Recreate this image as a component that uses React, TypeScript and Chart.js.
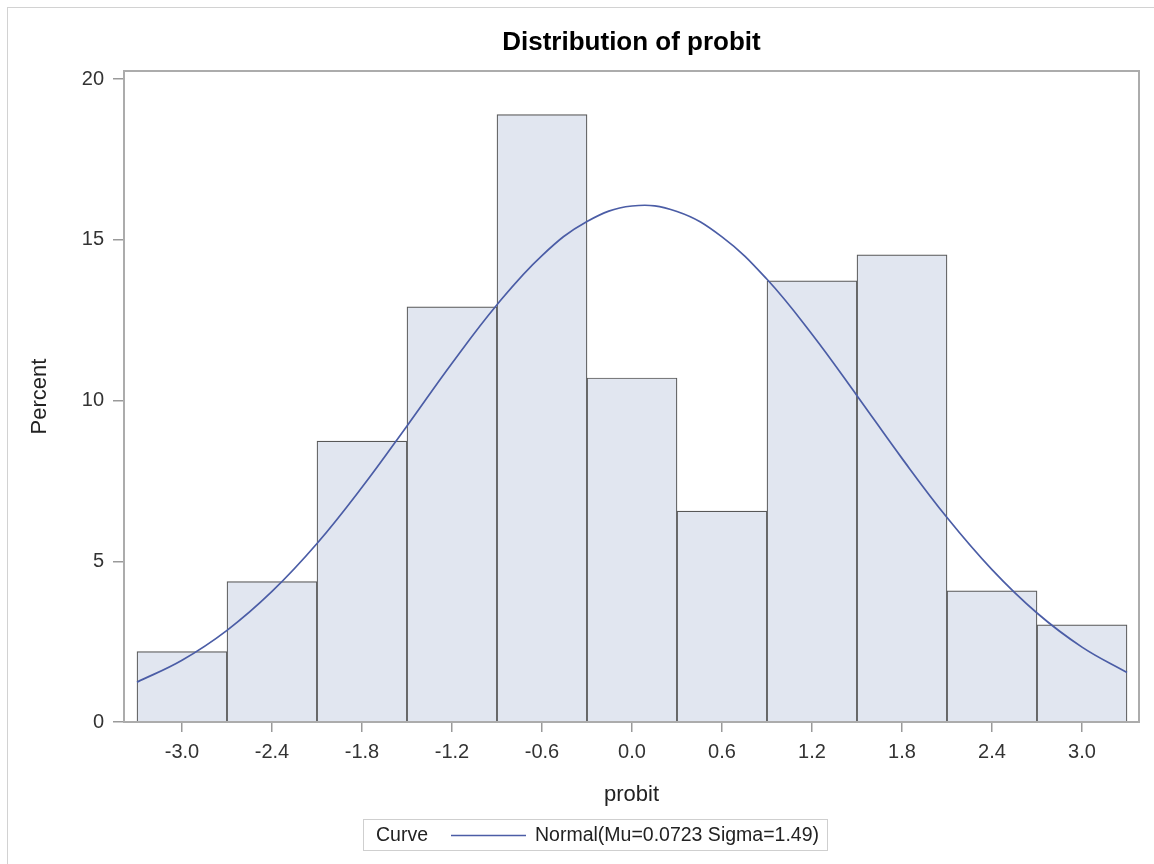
import React, { useEffect, useRef } from 'react';
import { Chart, registerables } from 'chart.js';

Chart.register(...registerables);

// ---- data ----
const binCenters = [-3.0, -2.4, -1.8, -1.2, -0.6, 0.0, 0.6, 1.2, 1.8, 2.4, 3.0];
const binPercents = [2.19, 4.37, 8.74, 12.91, 18.89, 10.7, 6.56, 13.72, 14.53, 4.08, 3.02];

const curveX = [-3.3, -3.0, -2.7, -2.4, -2.1, -1.8, -1.5, -1.2, -0.9, -0.6, -0.3, 0.0, 0.3, 0.6, 0.9, 1.2, 1.5, 1.8, 2.1, 2.4, 2.7, 3.0, 3.3];
const curveY = [1.24, 1.92, 2.85, 4.06, 5.55, 7.3, 9.21, 11.16, 12.98, 14.51, 15.57, 16.05, 15.88, 15.09, 13.77, 12.06, 10.15, 8.2, 6.36, 4.74, 3.39, 2.33, 1.54];

const xTickValues = [-3.0, -2.4, -1.8, -1.2, -0.6, 0.0, 0.6, 1.2, 1.8, 2.4, 3.0];
const yTickValues = [0, 5, 10, 15, 20];

const chartTitle = 'Distribution of probit';
const xAxisTitle = 'probit';
const yAxisTitle = 'Percent';
const legendTitle = 'Curve';
const legendLabel = 'Normal(Mu=0.0723 Sigma=1.49)';

const FONT = "'Liberation Sans', Arial, sans-serif";
const CURVE_COLOR = '#4b5da6';
const FRAME_COLOR = '#acacac';

const decorPlugin = {
  id: 'decor',
  afterDatasetsDraw(chart: any) {
    const { ctx, chartArea: a } = chart;
    ctx.save();
    ctx.strokeStyle = FRAME_COLOR;
    ctx.lineWidth = 2;
    ctx.strokeRect(a.left, a.top, a.right - a.left, a.bottom - a.top);
    ctx.restore();
  },
  afterDraw(chart: any) {
    const { ctx, chartArea: a } = chart;
    const cx = (a.left + a.right) / 2;
    const cy = (a.top + a.bottom) / 2;
    ctx.save();
    // title
    ctx.fillStyle = '#000';
    ctx.font = `bold 26px ${FONT}`;
    ctx.textAlign = 'center';
    ctx.textBaseline = 'alphabetic';
    ctx.fillText(chartTitle, cx, 42);
    // x axis title
    ctx.fillStyle = '#222';
    ctx.font = `22px ${FONT}`;
    ctx.fillText(xAxisTitle, cx, 793);
    // y axis title
    ctx.save();
    ctx.translate(32, cy);
    ctx.rotate(-Math.PI / 2);
    ctx.textBaseline = 'middle';
    ctx.fillText(yAxisTitle, 0, 0);
    ctx.restore();
    // legend
    const lx = 355, ly = 811, lw = 464, lh = 31;
    ctx.strokeStyle = '#cfcfcf';
    ctx.lineWidth = 1;
    ctx.strokeRect(lx + 0.5, ly + 0.5, lw, lh);
    ctx.font = `19.5px ${FONT}`;
    ctx.fillStyle = '#222';
    ctx.textAlign = 'left';
    ctx.textBaseline = 'middle';
    ctx.fillText(legendTitle, 368, ly + lh / 2 + 1);
    ctx.strokeStyle = CURVE_COLOR;
    ctx.lineWidth = 1.5;
    ctx.beginPath();
    ctx.moveTo(443, ly + lh / 2 + 1);
    ctx.lineTo(518, ly + lh / 2 + 1);
    ctx.stroke();
    ctx.fillText(legendLabel, 527, ly + lh / 2 + 1);
    ctx.restore();
  },
};

export default function App() {
  const ref = useRef<HTMLCanvasElement | null>(null);
  useEffect(() => {
    if (!ref.current) return;
    Chart.defaults.font.family = FONT;
    const chart = new Chart(ref.current, {
      type: 'bar',
      data: {
        datasets: [
          {
            type: 'line',
            label: legendLabel,
            data: curveX.map((x, i) => ({ x, y: curveY[i] })),
            borderColor: CURVE_COLOR,
            borderWidth: 1.7,
            pointRadius: 0,
            tension: 0.4,
            fill: false,
            order: 0,
          } as any,
          {
            type: 'bar',
            label: 'Percent',
            data: binCenters.map((x, i) => ({ x, y: binPercents[i] })),
            backgroundColor: '#e1e6f0',
            borderColor: '#585858',
            borderWidth: 1.2,
            borderSkipped: 'start',
            barPercentage: 1,
            categoryPercentage: 1,
            order: 1,
          } as any,
        ],
      },
      options: {
        responsive: false,
        animation: false,
        layout: { padding: { left: 0, top: 63, right: 15, bottom: 42 } },
        plugins: { legend: { display: false }, tooltip: { enabled: false }, title: { display: false } },
        scales: {
          x: {
            type: 'linear',
            min: -3.3867,
            max: 3.38,
            offset: false,
            grid: { drawOnChartArea: false, drawTicks: true, tickLength: 10, color: '#9a9a9a', lineWidth: 1.5, offset: false },
            border: { display: false },
            ticks: {
              color: '#333',
              font: { size: 20, family: FONT },
              padding: 8,
              maxRotation: 0,
              autoSkip: false,
              callback: (v: any) => Number(v).toFixed(1),
            },
            afterBuildTicks: (s: any) => {
              s.ticks = xTickValues.map((value) => ({ value }));
            },
            afterFit: (s: any) => {
              s.height = 100;
            },
          },
          y: {
            type: 'linear',
            min: 0,
            max: 20.249,
            grid: { drawOnChartArea: false, drawTicks: true, tickLength: 11, color: '#9a9a9a', lineWidth: 1.5 },
            border: { display: false },
            ticks: {
              color: '#333',
              font: { size: 20, family: FONT },
              padding: 9,
              autoSkip: false,
              callback: (v: any) => String(v),
            },
            afterBuildTicks: (s: any) => {
              s.ticks = yTickValues.map((value) => ({ value }));
            },
            afterFit: (s: any) => {
              s.width = 116;
            },
          },
        },
      } as any,
      plugins: [decorPlugin],
    });
    return () => chart.destroy();
  }, []);

  return (
    <div
      style={{
        position: 'absolute',
        left: 7,
        top: 7,
        width: 1147,
        height: 857,
        boxSizing: 'border-box',
        borderLeft: '1px solid #d2d2d2',
        borderTop: '1px solid #d2d2d2',
        background: '#fff',
        overflow: 'hidden',
      }}
    >
      <canvas ref={ref} width={1146} height={856} style={{ display: 'block' }} />
    </div>
  );
}
